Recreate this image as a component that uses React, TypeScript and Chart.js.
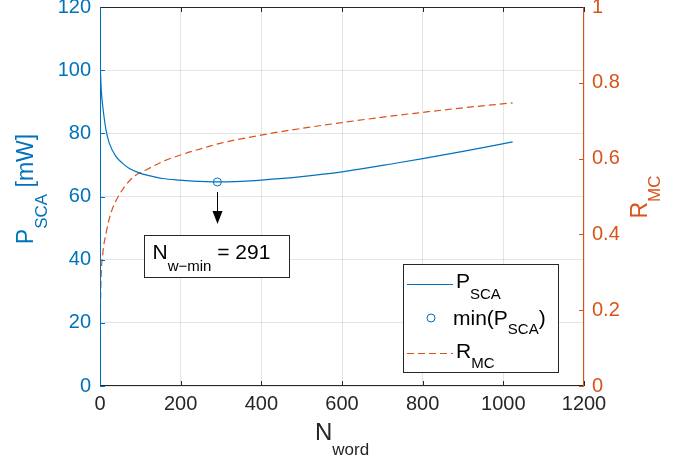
import React, { useEffect, useRef } from "react";
import { Chart, registerables } from "chart.js";
Chart.register(...registerables);

// ---- data ----
const pScaN = [1, 3, 7, 15, 23, 40, 56, 73, 97, 122, 155, 197, 263, 291, 350, 400, 500, 600, 736, 800, 900, 1023];
const pScaMw = [100, 94, 88.4, 81, 76.9, 72.6, 70.5, 68.9, 67.5, 66.6, 65.7, 65.2, 64.7, 64.6, 64.8, 65.2, 66.3, 67.8, 70.6, 72.0, 74.3, 77.3];
const rMcN = [1, 2.5, 7, 15, 27, 48, 81, 114, 155, 201, 263, 300, 389, 471, 600, 736, 800, 900, 1023];
const rMcVal = [0.2, 0.28, 0.35, 0.403, 0.456, 0.505, 0.55, 0.57, 0.592, 0.61, 0.63, 0.641, 0.66, 0.675, 0.695, 0.714, 0.722, 0.734, 0.747];
const minN = 291;
const minP = 64.6;
const annotationValue = "291";

const xMin = 0, xMax = 1200, xStep = 200;
const yMin = 0, yMax = 120, yStep = 20;
const y1Min = 0, y1Max = 1, y1Step = 0.2;

const BLUE = "#0072BD";
const RED = "#D95319";
const DARK = "#262626";
const FONT = "'Liberation Sans', Arial, sans-serif";

type Part = { t: string; sub?: boolean };

function fmt(v: number) {
  return String(Number(v.toFixed(3)));
}

function partsWidth(ctx: CanvasRenderingContext2D, parts: Part[], big: number, small: number) {
  let w = 0;
  for (const p of parts) {
    ctx.font = `${p.sub ? small : big}px ${FONT}`;
    w += ctx.measureText(p.t).width;
  }
  return w;
}

function drawParts(ctx: CanvasRenderingContext2D, parts: Part[], x: number, y: number, big: number, small: number, subOff: number, color: string) {
  ctx.fillStyle = color;
  ctx.textBaseline = "alphabetic";
  ctx.textAlign = "left";
  let cx = x;
  for (const p of parts) {
    ctx.font = `${p.sub ? small : big}px ${FONT}`;
    ctx.fillText(p.t, cx, p.sub ? y + subOff : y);
    cx += ctx.measureText(p.t).width;
  }
  return cx;
}

const decorPlugin = {
  id: "decor",
  afterDraw(chart: any) {
    const ctx: CanvasRenderingContext2D = chart.ctx;
    const { left, right, top, bottom } = chart.chartArea;
    const xs = chart.scales.x, ys = chart.scales.y, y1s = chart.scales.y1;
    ctx.save();
    // inward ticks
    ctx.lineWidth = 1;
    ctx.strokeStyle = DARK;
    for (let v = xMin; v <= xMax; v += xStep) {
      const px = Math.round(xs.getPixelForValue(v)) + 0.5;
      ctx.beginPath(); ctx.moveTo(px, bottom); ctx.lineTo(px, bottom - 5); ctx.stroke();
      ctx.beginPath(); ctx.moveTo(px, top); ctx.lineTo(px, top + 5); ctx.stroke();
    }
    ctx.strokeStyle = BLUE;
    for (let v = yMin; v <= yMax; v += yStep) {
      const py = Math.round(ys.getPixelForValue(v)) + 0.5;
      ctx.beginPath(); ctx.moveTo(left, py); ctx.lineTo(left + 5, py); ctx.stroke();
    }
    ctx.strokeStyle = RED;
    for (let i = 0; i <= Math.round((y1Max - y1Min) / y1Step); i++) {
      const v = y1Min + i * y1Step;
      const py = Math.round(y1s.getPixelForValue(v)) + 0.5;
      ctx.beginPath(); ctx.moveTo(right, py); ctx.lineTo(right - 5, py); ctx.stroke();
    }
    // box
    const L = Math.round(left) + 0.5, R = Math.round(right) - 0.5, T = Math.round(top) + 0.5, B = Math.round(bottom) - 0.5;
    ctx.strokeStyle = DARK;
    ctx.beginPath(); ctx.moveTo(L, T); ctx.lineTo(R, T); ctx.stroke();
    ctx.beginPath(); ctx.moveTo(L, B); ctx.lineTo(R, B); ctx.stroke();
    ctx.strokeStyle = BLUE;
    ctx.beginPath(); ctx.moveTo(L, T); ctx.lineTo(L, B); ctx.stroke();
    ctx.strokeStyle = RED;
    ctx.beginPath(); ctx.moveTo(R, T); ctx.lineTo(R, B); ctx.stroke();

    // axis titles
    const xt: Part[] = [{ t: "N" }, { t: "word", sub: true }];
    const xw = partsWidth(ctx, xt, 24, 17);
    drawParts(ctx, xt, (left + right) / 2 - xw / 2, 440, 24, 17, 15, DARK);
    const lt: Part[] = [{ t: "P" }, { t: "SCA", sub: true }, { t: " [mW]" }];
    const lw = partsWidth(ctx, lt, 23, 17);
    ctx.save();
    ctx.translate(33, 189);
    ctx.rotate(-Math.PI / 2);
    drawParts(ctx, lt, -lw / 2, 0, 23, 17, 14, BLUE);
    ctx.restore();
    const rt: Part[] = [{ t: "R" }, { t: "MC", sub: true }];
    const rw = partsWidth(ctx, rt, 23, 17);
    ctx.save();
    ctx.translate(647, 197);
    ctx.rotate(-Math.PI / 2);
    drawParts(ctx, rt, -rw / 2, 0, 23, 17, 13, RED);
    ctx.restore();

    // annotation: arrow + box
    const mx = Math.round(xs.getPixelForValue(minN)) + 0.5;
    const my = ys.getPixelForValue(minP);
    ctx.strokeStyle = "#000";
    ctx.fillStyle = "#000";
    ctx.lineWidth = 1;
    ctx.beginPath(); ctx.moveTo(mx, my + 10); ctx.lineTo(mx, my + 32); ctx.stroke();
    ctx.beginPath();
    ctx.moveTo(mx - 5, my + 29); ctx.lineTo(mx + 5, my + 29); ctx.lineTo(mx, my + 42); ctx.closePath(); ctx.fill();
    const bx0 = Math.round(mx - 74) + 0.5, bx1 = Math.round(mx + 71) + 0.5;
    const by0 = Math.round(my + 53) + 0.5, by1 = Math.round(my + 95) + 0.5;
    ctx.fillStyle = "#fff";
    ctx.fillRect(bx0, by0, bx1 - bx0, by1 - by0);
    ctx.strokeStyle = DARK;
    ctx.strokeRect(bx0, by0, bx1 - bx0, by1 - by0);
    const at: Part[] = [{ t: "N" }, { t: "w\u2212min", sub: true }, { t: " = " + annotationValue }];
    drawParts(ctx, at, bx0 + 8, my + 77, 21, 15, 12, "#000");

    // legend
    const gx0 = 403.5, gx1 = 558.5, gy0 = 264.5, gy1 = 372.5;
    ctx.fillStyle = "#fff";
    ctx.fillRect(gx0, gy0, gx1 - gx0, gy1 - gy0);
    ctx.strokeStyle = DARK;
    ctx.strokeRect(gx0, gy0, gx1 - gx0, gy1 - gy0);
    ctx.strokeStyle = BLUE;
    ctx.beginPath(); ctx.moveTo(407, 284.5); ctx.lineTo(453, 284.5); ctx.stroke();
    drawParts(ctx, [{ t: "P" }, { t: "SCA", sub: true }], 456, 288, 21, 15, 11, "#000");
    ctx.strokeStyle = BLUE;
    ctx.beginPath(); ctx.arc(431, 318, 4, 0, Math.PI * 2); ctx.stroke();
    const e2 = drawParts(ctx, [{ t: "min(P" }, { t: "SCA", sub: true }], 453, 325, 21, 15, 9, "#000");
    drawParts(ctx, [{ t: ")" }], e2, 325, 21, 15, 0, "#000");
    ctx.strokeStyle = RED;
    ctx.setLineDash([7, 4]);
    ctx.beginPath(); ctx.moveTo(407, 353.5); ctx.lineTo(453, 353.5); ctx.stroke();
    ctx.setLineDash([]);
    drawParts(ctx, [{ t: "R" }, { t: "MC", sub: true }], 456, 358, 21, 15, 10, "#000");
    ctx.restore();
  },
};

export default function App() {
  const ref = useRef<HTMLCanvasElement | null>(null);
  useEffect(() => {
    if (!ref.current) return;
    const chart = new Chart(ref.current, {
      type: "line",
      data: {
        datasets: [
          {
            label: "PSCA",
            data: pScaN.map((x, i) => ({ x, y: pScaMw[i] })),
            borderColor: BLUE,
            borderWidth: 1.2,
            pointRadius: 0,
            cubicInterpolationMode: "monotone",
            yAxisID: "y",
          },
          {
            label: "min(PSCA)",
            data: [{ x: minN, y: minP }],
            borderColor: BLUE,
            backgroundColor: "rgba(0,0,0,0)",
            showLine: false,
            pointRadius: 4,
            pointBorderWidth: 1,
            yAxisID: "y",
          },
          {
            label: "RMC",
            data: rMcN.map((x, i) => ({ x, y: rMcVal[i] })),
            borderColor: RED,
            borderWidth: 1.2,
            borderDash: [7, 4],
            pointRadius: 0,
            cubicInterpolationMode: "monotone",
            yAxisID: "y1",
          },
        ],
      },
      options: {
        animation: false,
        responsive: true,
        maintainAspectRatio: false,
        layout: { padding: { top: 7, left: 0, right: 0, bottom: 0 } },
        plugins: { legend: { display: false }, tooltip: { enabled: false } },
        scales: {
          x: {
            type: "linear",
            min: xMin,
            max: xMax,
            ticks: { stepSize: xStep, color: DARK, font: { family: FONT, size: 20 }, padding: 6, maxRotation: 0, callback: (v: any) => fmt(Number(v)) },
            grid: { color: "rgba(0,0,0,0.1)", drawTicks: false },
            border: { display: false },
            afterFit: (s: any) => { s.height = 76; s.paddingLeft = 0; s.paddingRight = 0; },
          },
          y: {
            type: "linear",
            position: "left",
            min: yMin,
            max: yMax,
            ticks: { stepSize: yStep, color: BLUE, font: { family: FONT, size: 20 }, padding: 9, callback: (v: any) => fmt(Number(v)) },
            grid: { color: "rgba(0,0,0,0.1)", drawTicks: false },
            border: { display: false },
            afterFit: (s: any) => { s.width = 100; s.paddingTop = 0; s.paddingBottom = 0; },
          },
          y1: {
            type: "linear",
            position: "right",
            min: y1Min,
            max: y1Max,
            ticks: { stepSize: y1Step, color: RED, font: { family: FONT, size: 20 }, padding: 8, callback: (v: any) => fmt(Number(v)) },
            grid: { display: false, drawTicks: false },
            border: { display: false },
            afterFit: (s: any) => { s.width = 104; s.paddingTop = 0; s.paddingBottom = 0; },
          },
        },
      },
      plugins: [decorPlugin],
    } as any);
    return () => chart.destroy();
  }, []);
  return (
    <div style={{ position: "fixed", left: 0, top: 0, width: 688, height: 462, background: "#fff" }}>
      <canvas ref={ref} />
    </div>
  );
}
